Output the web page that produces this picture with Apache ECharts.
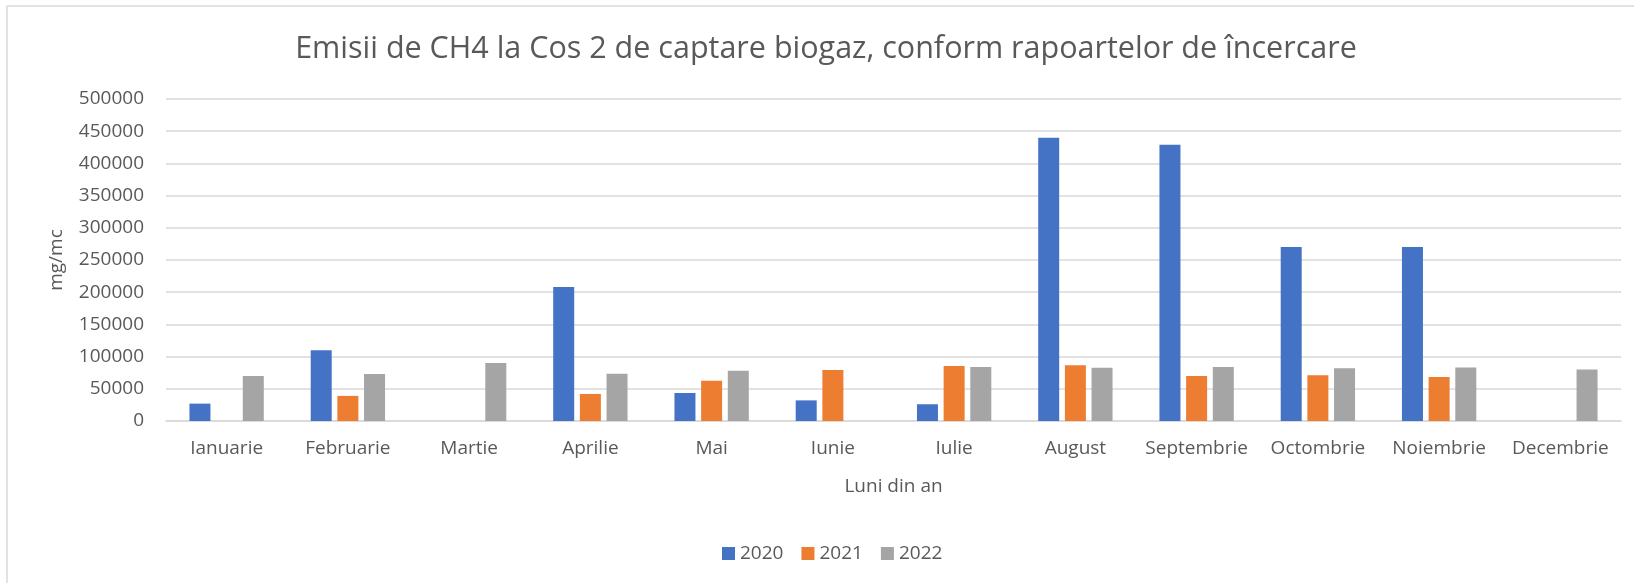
<!DOCTYPE html>
<html>
<head>
<meta charset="utf-8">
<script src="https://cdn.jsdelivr.net/npm/echarts@6/dist/echarts.min.js"></script>
<style>
  html, body { margin: 0; padding: 0; background: #fff; }
  #chart { width: 1634px; height: 583px; }
</style>
</head>
<body>
<div id="chart"></div>
<script>
// Monthly CH4 emissions (mg/mc) at the biogas capture stack, per year
const months = ['Ianuarie', 'Februarie', 'Martie', 'Aprilie', 'Mai', 'Iunie',
  'Iulie', 'August', 'Septembrie', 'Octombrie', 'Noiembrie', 'Decembrie'];
const years = ['2020', '2021', '2022'];
const values2020 = [27000, 110000, null, 208000, 43500, 32000, 26000, 440000, 429000, 270000, 270000, null];
const values2021 = [null, 39000, null, 42000, 62500, 79000, 85500, 86500, 70000, 71000, 68500, null];
const values2022 = [70000, 73000, 90000, 73500, 78000, null, 84000, 82500, 84000, 82000, 83000, 80000];
const yTicks = { min: 0, max: 500000, interval: 50000 };

const palette = ['#4472C4', '#ED7D31', '#A5A5A5'];
const textColor = '#595959';
const font = 'Open Sans';

const chart = echarts.init(document.getElementById('chart'));
const seriesData = [values2020, values2021, values2022];

chart.setOption({
  animation: false,
  color: palette,
  textStyle: { fontFamily: font, color: textColor },
  title: {
    text: 'Emisii de CH4 la Cos 2 de captare biogaz, conform rapoartelor de încercare',
    left: 821, top: 29, textAlign: 'center',
    textStyle: { fontFamily: font, fontSize: 30.5, fontWeight: 'normal', color: textColor }
  },
  legend: {
    data: years,
    left: 717, top: 539,
    itemWidth: 13, itemHeight: 13, itemGap: 18,
    icon: 'rect',
    textStyle: { fontFamily: font, fontSize: 19, color: textColor }
  },
  grid: { left: 166, right: 13, top: 99, bottom: 162, containLabel: false },
  xAxis: {
    type: 'category',
    data: months,
    name: 'Luni din an',
    nameLocation: 'middle',
    nameGap: 56,
    nameTextStyle: { fontFamily: font, fontSize: 19, color: textColor },
    axisLine: { show: true, lineStyle: { color: '#D9D9D9', width: 1.5 } },
    axisTick: { show: false },
    axisLabel: { fontFamily: font, fontSize: 19, color: textColor, margin: 18, interval: 0 }
  },
  yAxis: {
    type: 'value',
    min: yTicks.min, max: yTicks.max, interval: yTicks.interval,
    name: 'mg/mc',
    nameLocation: 'middle',
    nameGap: 100,
    nameRotate: 90,
    nameTextStyle: { fontFamily: font, fontSize: 19, color: textColor },
    axisLine: { show: false },
    axisTick: { show: false },
    axisLabel: { fontFamily: font, fontSize: 19, color: textColor, margin: 22,
      formatter: v => String(v) },
    splitLine: { lineStyle: { color: '#D9D9D9', width: 1.5 } }
  },
  series: years.map((y, i) => ({
    name: y,
    type: 'bar',
    data: seriesData[i],
    barWidth: 21,
    barGap: '27%',
    itemStyle: { color: palette[i] }
  })),
  graphic: [
    { type: 'line', shape: { x1: 7, y1: 6, x2: 1634, y2: 6 }, style: { stroke: '#D9D9D9', lineWidth: 1.5 }, silent: true },
    { type: 'line', shape: { x1: 7, y1: 6, x2: 7, y2: 583 }, style: { stroke: '#D9D9D9', lineWidth: 1.5 }, silent: true }
  ]
});
</script>
</body>
</html>
